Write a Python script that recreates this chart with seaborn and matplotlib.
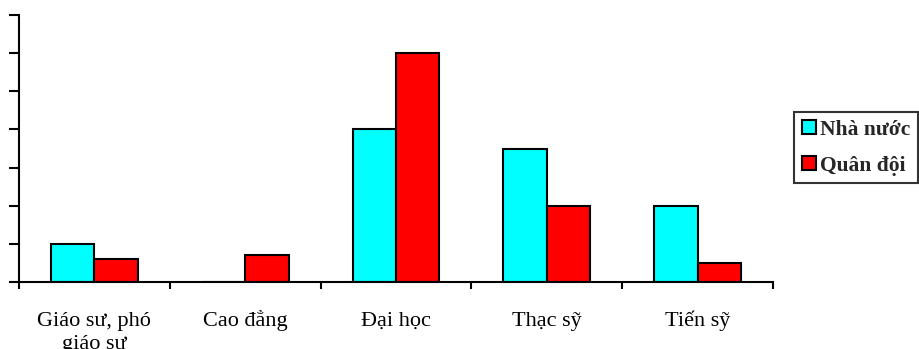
import matplotlib
matplotlib.use("Agg")
import matplotlib.pyplot as plt
import matplotlib.transforms as mtransforms
import seaborn as sns
import pandas as pd
import numpy as np

categories = ["Giáo sư, phó\ngiáo sư", "Cao đẳng", "Đại học", "Thạc sỹ", "Tiến sỹ"]
series_names = ["Nhà nước", "Quân đội"]
nha_nuoc = [1.0, 0.0, 4.0, 3.5, 2.0]
quan_doi = [0.6, 0.7, 6.0, 2.0, 0.5]
colors = ["#00FFFF", "#FF0000"]

df = pd.DataFrame({
    "cat": categories * 2,
    "series": [series_names[0]] * len(categories) + [series_names[1]] * len(categories),
    "value": nha_nuoc + quan_doi,
})

sns.set_theme(style="white")
plt.rcParams["font.family"] = ["Liberation Serif", "DejaVu Serif"]

fig = plt.figure(figsize=(9.2, 3.49), dpi=100)
ax = fig.add_axes([19/920, 1 - 282/349, (773 - 19)/920, (282 - 15)/349])

sns.barplot(data=df, x="cat", y="value", hue="series", palette=colors,
            saturation=1, width=0.575, edgecolor="black", linewidth=1.5,
            ax=ax, legend=False)

ax.set_xlim(-0.5, len(categories) - 0.5)
ax.set_ylim(0, 7)
ax.set_yticks(np.arange(0, 8, 1))
ax.set_yticklabels([])
ax.tick_params(axis="y", direction="out", length=7, width=1.5, color="black", left=True)
ax.set_xticks(range(len(categories)))
ax.set_xticklabels(categories, fontsize=16, color="black", linespacing=1.3)
ax.tick_params(axis="x", which="major", length=0, pad=31.5)
for lbl in ax.get_xticklabels():
    lbl.set_verticalalignment("baseline")
ax.set_xticks(np.arange(-0.5, len(categories), 1), minor=True)
ax.tick_params(axis="x", which="minor", direction="out", length=5, width=1.5, color="black", bottom=True)
ax.set_xlabel("")
ax.set_ylabel("")
for s in ["top", "right"]:
    ax.spines[s].set_visible(False)
for s in ["left", "bottom"]:
    ax.spines[s].set_color("black")
    ax.spines[s].set_linewidth(1.5)
ax.grid(False)

handles = [plt.Rectangle((0, 0), 1, 1, facecolor=c, edgecolor="black", linewidth=1.5) for c in colors]
leg = fig.legend(handles, series_names, loc="upper left",
                 bbox_to_anchor=(794/920, 1 - 112/349),
                 frameon=True, fancybox=False, edgecolor="black",
                 prop={"weight": "bold", "size": 15.5},
                 handlelength=0.65, handleheight=0.65, handletextpad=0.2,
                 labelspacing=0.75, borderpad=0.35, borderaxespad=0)
leg.get_frame().set_linewidth(1.5)

# align multi-line label on the baseline of its first line
fig.canvas.draw()
renderer = fig.canvas.get_renderer()
for lbl in ax.get_xticklabels():
    if "\n" in lbl.get_text():
        _, info, _ = lbl._get_layout(renderer)
        dy = info[0][3] - info[-1][3]
        off = mtransforms.ScaledTranslation(0, -dy / fig.dpi, fig.dpi_scale_trans)
        lbl.set_transform(lbl.get_transform() + off)

fig.savefig("out.png", dpi=100)
